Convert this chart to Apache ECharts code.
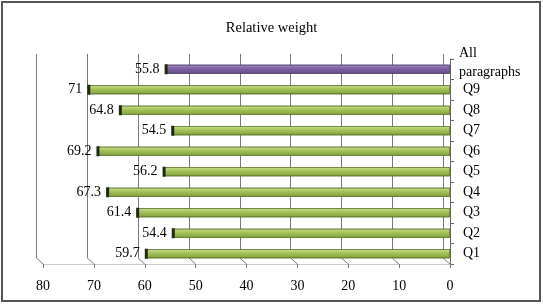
<!DOCTYPE html>
<html>
<head>
<meta charset="utf-8">
<script src="https://cdn.jsdelivr.net/npm/echarts@6/dist/echarts.min.js"></script>
<style>
  html, body { margin: 0; padding: 0; background: #fff; }
  #main { width: 543px; height: 304px; }
</style>
</head>
<body>
<div id="main"></div>
<script>
var dom = document.getElementById('main');
var chart = echarts.init(dom, null, { renderer: 'canvas' });

// data, top to bottom
const categories = ['All\nparagraphs', 'Q9', 'Q8', 'Q7', 'Q6', 'Q5', 'Q4', 'Q3', 'Q2', 'Q1'];
const weights = [55.8, 71, 64.8, 54.5, 69.2, 56.2, 67.3, 61.4, 54.4, 59.7];
const xTicks = [0, 10, 20, 30, 40, 50, 60, 70, 80];

const serif = 'Liberation Serif';

var green = new echarts.graphic.LinearGradient(0, 0, 0, 1, [
  { offset: 0, color: '#d2e6a2' },
  { offset: 0.35, color: '#a9c75c' },
  { offset: 1, color: '#819f3c' }
]);
var purple = new echarts.graphic.LinearGradient(0, 0, 0, 1, [
  { offset: 0, color: '#a893c6' },
  { offset: 0.35, color: '#8366a8' },
  { offset: 1, color: '#634a85' }
]);

var barData = weights.map(function (v, i) {
  return {
    value: v,
    itemStyle: {
      color: i === 0 ? purple : green,
      borderColor: i === 0 ? '#4b3a63' : '#5a7228',
      borderWidth: 0.6
    }
  };
});
var capData = weights.map(function (v, i) {
  return [v, categories[i]];
});

var option = {
  animation: false,
  title: {
    text: 'Relative weight',
    left: 'center',
    top: 16,
    textStyle: { fontFamily: serif, fontSize: 14.5, fontWeight: 'normal', color: '#000' }
  },
  grid: [
    { left: 43, right: 93, top: 59, bottom: 40 },
    { left: 36.5, right: 100, top: 54, bottom: 46 }
  ],
  xAxis: [
    {
      type: 'value', gridIndex: 0, min: 0, max: 80, interval: 10, inverse: true,
      axisLine: { show: true, lineStyle: { color: '#c8c8c8', width: 1 } },
      axisTick: { show: true, length: 4, lineStyle: { color: '#777' } },
      splitLine: { show: false },
      axisLabel: { margin: 15, fontFamily: serif, fontSize: 14, color: '#000' }
    },
    {
      type: 'value', gridIndex: 1, min: 0, max: 80, interval: 10, inverse: true,
      axisLine: { show: false }, axisTick: { show: false }, axisLabel: { show: false },
      splitLine: { show: true, lineStyle: { color: '#7a7a7a', width: 1 } }
    }
  ],
  yAxis: [
    {
      type: 'category', gridIndex: 0, position: 'right', inverse: true,
      data: categories,
      axisLine: { show: true, lineStyle: { color: '#666' } },
      axisTick: { show: true, inside: false, length: 4, lineStyle: { color: '#666' } },
      axisLabel: {
        interval: 0,
        margin: 9,
        align: 'left',
        fontFamily: serif, fontSize: 14, color: '#000',
        formatter: function (v) {
          if (v.indexOf('\n') >= 0) return '{p|' + v + '}';
          return '{q|' + v + '}';
        },
        rich: {
          p: { fontFamily: serif, fontSize: 14, color: '#000', lineHeight: 19, padding: [0, 0, 13, 0] },
          q: { fontFamily: serif, fontSize: 14, color: '#000', padding: [0, 0, 0, 4] }
        }
      }
    },
    {
      type: 'category', gridIndex: 1, inverse: true, data: categories, show: false
    }
  ],
  series: [
    {
      name: 'Relative weight',
      type: 'bar',
      xAxisIndex: 0, yAxisIndex: 0,
      barWidth: 9,
      data: barData
    },
    {
      name: 'cap',
      type: 'scatter',
      xAxisIndex: 0, yAxisIndex: 0,
      symbol: 'rect',
      symbolSize: [3, 10],
      itemStyle: { color: '#1f2a0e', opacity: 1 },
      z: 3,
      label: {
        show: true,
        position: 'left',
        distance: 5,
        formatter: function (p) { return p.value[0]; },
        fontFamily: serif, fontSize: 14, color: '#000'
      },
      data: capData
    }
  ]
};

chart.setOption(option);

// perspective floor: connect back gridline bottoms to the front ticks
var backBottom = 304 - 46;
var frontBottom = 304 - 40;
var floor = xTicks.map(function (v) {
  var bx = chart.convertToPixel({ xAxisIndex: 1 }, v);
  var fx = chart.convertToPixel({ xAxisIndex: 0 }, v);
  return {
    type: 'line',
    shape: { x1: bx, y1: backBottom, x2: fx, y2: frontBottom },
    style: { stroke: '#7a7a7a', lineWidth: 1 },
    silent: true
  };
});
floor.push({
  type: 'rect',
  shape: { x: 2, y: 2, width: 538, height: 299 },
  style: { fill: null, stroke: '#555', lineWidth: 2 },
  silent: true,
  z: 10
});
chart.setOption({ graphic: floor });

window.addEventListener('resize', chart.resize);
</script>
</body>
</html>
